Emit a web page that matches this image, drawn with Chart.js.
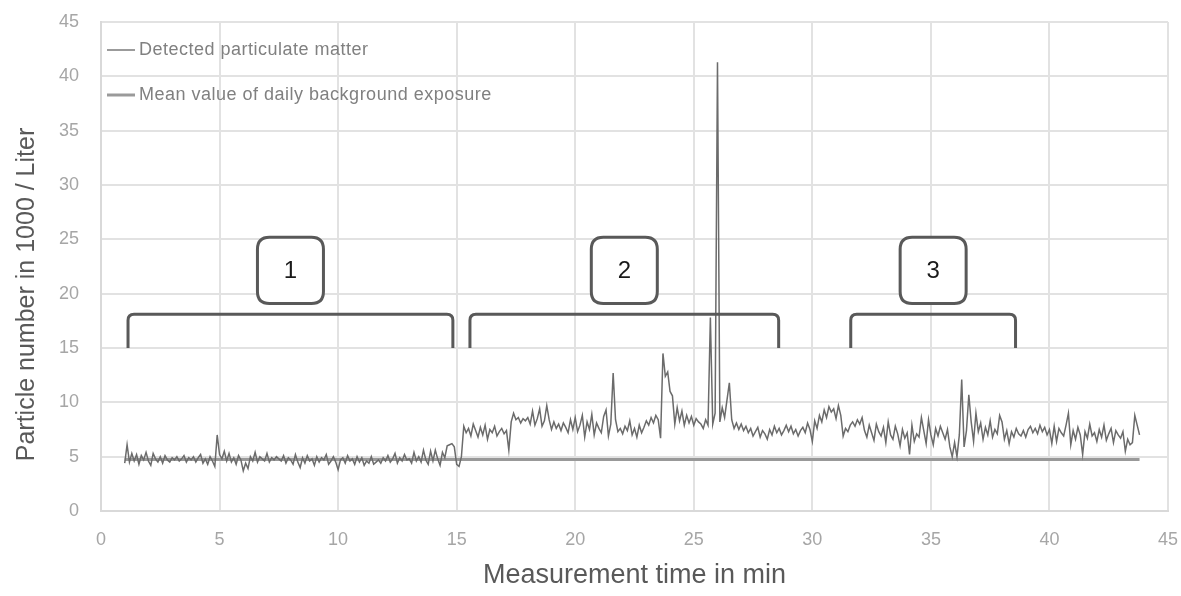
<!DOCTYPE html>
<html lang="en">
<head>
  <title>Particulate matter</title>
  <meta charset="UTF-8">
  <script src="https://cdn.jsdelivr.net/npm/chart.js"></script>
  <style>
    body { margin: 0; background: #fff; }
  </style>
</head>
<body>
  <canvas id="pmChart" width="1181" height="596"></canvas>

  <script>
    // measurement starts at 1 min, one value every 0.1 min
    const startTime = 1.0;
    const timeStep = 0.1;

    // detected particle numbers (1000 / Liter), one row per minute
    const detected = [
      4.4, 6.1, 4.5, 5.3, 4.6, 5.2, 4.3, 5.1, 4.7, 5.4,
      4.6, 4.2, 5.3, 4.8, 4.5, 5.0, 4.4, 5.1, 4.7, 4.5,
      4.9, 4.7, 5.0, 4.6, 4.8, 5.1, 4.5, 4.9, 4.7, 5.0,
      4.5, 4.9, 5.2, 4.4, 4.8, 4.3, 5.0, 4.6, 4.1, 7.0,
      5.2, 4.8, 5.5, 4.6, 5.3, 4.5, 4.9, 4.3, 5.1, 4.7,
      3.7, 4.4, 3.9, 5.0, 4.6, 5.4, 4.5, 5.0, 4.8, 4.6,
      5.3, 4.5, 4.9, 4.7, 5.0, 4.8, 4.6, 5.1, 4.4, 4.9,
      4.7, 4.3, 5.2, 4.5, 4.0, 4.9, 4.4, 5.1, 4.6, 4.8,
      4.2, 5.0, 4.5, 4.9, 4.7, 5.2, 4.3, 4.6, 5.0, 4.5,
      3.8, 4.7, 4.9, 4.4, 5.1, 4.6, 4.8, 4.3, 5.0, 4.5,
      4.9, 4.2, 4.6, 4.4, 5.0, 4.3, 4.5, 4.7, 4.4, 4.9,
      4.6, 5.1, 4.5, 4.8, 5.3, 4.4, 4.9, 4.6, 5.2, 4.7,
      4.8, 4.4, 5.4, 4.6, 5.0, 4.5, 5.6, 4.7, 4.3, 5.5,
      4.6, 5.6, 4.8, 4.2, 5.4, 4.9, 6.0, 6.1, 6.2, 5.9,
      4.3, 4.1, 5.0, 7.8, 7.2, 7.6, 6.9, 8.0, 7.4, 6.8,
      7.7, 7.0, 7.9, 6.6, 7.5, 7.2, 7.8, 6.9, 7.3, 7.6,
      7.1, 7.4, 5.6, 8.2, 9.0, 8.4, 8.6, 8.1, 8.5, 8.3,
      8.6, 8.0, 9.2, 7.9, 8.5, 9.4, 7.8, 8.3, 9.7, 8.4,
      7.5, 8.2, 7.6, 8.0, 7.4, 8.1, 7.7, 7.2, 8.4, 7.5,
      8.6, 7.3, 7.9, 8.8, 6.8, 8.2, 7.5, 8.9, 7.0, 8.1,
      7.6, 7.2, 8.7, 9.3, 6.9, 8.0, 12.7, 8.4, 7.3, 7.6,
      7.1, 7.8, 7.4, 8.3, 7.0, 7.6, 6.8, 7.9, 7.2, 7.7,
      8.3, 7.9, 8.6, 8.1, 8.8, 8.4, 6.7, 14.5, 12.4, 12.8,
      11.0, 10.6, 8.0, 9.5, 8.3, 9.2, 7.9, 8.8, 8.1, 8.7,
      7.9, 8.5, 8.2, 8.0, 7.6, 8.4, 7.9, 17.8, 8.0, 9.0,
      41.3, 8.2, 9.5, 8.6, 10.2, 11.8, 8.4, 7.6, 8.1, 7.5,
      8.0, 7.4, 7.8, 7.2, 7.6, 6.9, 7.3, 7.7, 6.8, 7.4,
      7.1, 6.6, 7.5, 7.0, 7.8, 7.2, 7.6, 7.0, 7.4, 7.9,
      7.3, 7.8, 7.1, 7.5, 6.9, 7.4, 7.7, 7.2, 8.1, 7.5,
      6.4, 8.3, 7.6, 8.8, 8.2, 9.3, 8.6, 9.6, 9.1, 9.4,
      8.5, 9.7, 8.8, 6.9, 7.6, 7.3, 7.9, 8.2, 7.8, 8.4,
      8.0, 8.6, 7.4, 6.8, 7.9, 7.2, 6.5, 8.0, 7.3, 6.9,
      7.7, 6.3, 8.2, 7.0, 6.6, 7.8, 7.1, 6.0, 7.5, 6.7,
      7.2, 5.2, 7.9, 6.4, 7.1, 6.8, 8.6, 7.4, 6.2, 8.4,
      7.0, 6.1, 7.6, 6.9, 7.8, 7.2, 6.6, 7.5, 5.9, 5.0,
      6.3, 5.0, 7.0, 12.1, 5.9, 7.4, 10.7, 8.2, 6.4, 9.0,
      7.3, 8.1, 6.6, 7.7, 7.0, 8.3, 6.8, 7.5, 7.1, 8.8,
      8.2, 6.6, 7.4, 6.2, 7.3, 6.8, 7.6, 7.1, 6.9, 7.4,
      6.8, 7.5, 7.8, 7.2, 7.6, 7.1, 7.9, 7.3, 7.7, 7.0,
      7.5, 6.2, 7.8, 6.4, 7.6, 7.2, 6.9, 7.9, 9.0, 6.1,
      7.4, 6.6, 7.7, 7.0, 5.2, 7.3, 6.7, 8.0, 6.9, 7.2,
      6.4, 7.5, 6.8, 7.9, 6.5, 7.1, 7.6, 6.3, 7.4, 7.0,
      6.7, 7.3, 5.5, 6.6, 6.1, 6.3, 8.8, 7.9, 7.0
    ];

    // mean value of daily background exposure
    const meanTimes = [1.0, 43.8];
    const meanValues = [4.75, 4.75];

    // measurement phases (start, end in min) and their labels
    const phaseLabels = ['1', '2', '3'];
    const phaseStart = [1.14, 15.56, 31.62];
    const phaseEnd = [14.84, 28.58, 38.57];

    const axisTicks = [0, 5, 10, 15, 20, 25, 30, 35, 40, 45];

    const legendLabels = ['Detected particulate matter', 'Mean value of daily background exposure'];

    const textFont = '"Liberation Sans", sans-serif';

    const detectedPoints = detected.map((v, i) => ({ x: startTime + i * timeStep, y: v }));
    const meanPoints = meanTimes.map((t, i) => ({ x: t, y: meanValues[i] }));

    function roundRect(ctx, x, y, w, h, r) {
      ctx.beginPath();
      ctx.moveTo(x + r, y);
      ctx.lineTo(x + w - r, y);
      ctx.quadraticCurveTo(x + w, y, x + w, y + r);
      ctx.lineTo(x + w, y + h - r);
      ctx.quadraticCurveTo(x + w, y + h, x + w - r, y + h);
      ctx.lineTo(x + r, y + h);
      ctx.quadraticCurveTo(x, y + h, x, y + h - r);
      ctx.lineTo(x, y + r);
      ctx.quadraticCurveTo(x, y, x + r, y);
      ctx.closePath();
    }

    // brackets + numbered boxes over the phases
    const phasePlugin = {
      id: 'phases',
      afterDatasetsDraw(chart) {
        const ctx = chart.ctx;
        const xs = chart.scales.x, ys = chart.scales.y;
        const top = ys.getPixelForValue(18.1);
        const leg = ys.getPixelForValue(15.0);
        const boxTop = ys.getPixelForValue(25.2);
        const boxBottom = ys.getPixelForValue(19.1);
        ctx.save();
        ctx.strokeStyle = '#595959';
        ctx.lineWidth = 3;
        phaseLabels.forEach((lab, i) => {
          const x0 = xs.getPixelForValue(phaseStart[i]);
          const x1 = xs.getPixelForValue(phaseEnd[i]);
          ctx.beginPath();
          ctx.moveTo(x0, leg);
          ctx.lineTo(x0, top + 6);
          ctx.quadraticCurveTo(x0, top, x0 + 6, top);
          ctx.lineTo(x1 - 6, top);
          ctx.quadraticCurveTo(x1, top, x1, top + 6);
          ctx.lineTo(x1, leg);
          ctx.stroke();

          const cx = (x0 + x1) / 2;
          const w = 66;
          roundRect(ctx, cx - w / 2, boxTop, w, boxBottom - boxTop, 12);
          ctx.fillStyle = '#ffffff';
          ctx.fill();
          ctx.stroke();
          ctx.fillStyle = '#1a1a1a';
          ctx.font = '24px ' + textFont;
          ctx.textAlign = 'center';
          ctx.textBaseline = 'middle';
          ctx.fillText(lab, cx, (boxTop + boxBottom) / 2 + 1);
        });
        ctx.restore();
      },
      afterDraw(chart) {
        const ctx = chart.ctx;
        const a = chart.chartArea;
        ctx.save();
        // y axis title, sits a bit below the middle of the plot like the original
        ctx.translate(27, (a.top + a.bottom) / 2 + 28);
        ctx.rotate(-Math.PI / 2);
        ctx.font = '25px ' + textFont;
        ctx.fillStyle = '#595959';
        ctx.textAlign = 'center';
        ctx.textBaseline = 'middle';
        ctx.fillText('Particle number in 1000 / Liter', 0, 0);
        ctx.restore();

        // legend inside the plot, top left
        const rows = [a.top + 28, a.top + 73];
        const colors = ['#7a7a7a', '#9a9a9a'];
        const widths = [1.5, 3];
        ctx.save();
        ctx.font = '18px ' + textFont;
        ctx.letterSpacing = '0.5px';
        ctx.textBaseline = 'middle';
        ctx.textAlign = 'left';
        legendLabels.forEach((lab, i) => {
          ctx.strokeStyle = colors[i];
          ctx.lineWidth = widths[i];
          ctx.beginPath();
          ctx.moveTo(a.left + 6, rows[i]);
          ctx.lineTo(a.left + 34, rows[i]);
          ctx.stroke();
          ctx.fillStyle = '#808080';
          ctx.fillText(lab, a.left + 38, rows[i]);
        });
        ctx.restore();
      }
    };

    const gridStyle = { color: '#e2e2e2', lineWidth: 2, drawTicks: false };

    new Chart(document.getElementById('pmChart'), {
      type: 'line',
      data: {
        datasets: [
          {
            label: legendLabels[0],
            data: detectedPoints,
            borderColor: '#6b6b6b',
            borderWidth: 1.5,
            pointRadius: 0,
            tension: 0
          },
          {
            label: legendLabels[1],
            data: meanPoints,
            borderColor: '#999999',
            borderWidth: 3,
            pointRadius: 0
          }
        ]
      },
      options: {
        responsive: false,
        animation: false,
        layout: { padding: { top: 22, right: 13, left: 0, bottom: 0 } },
        plugins: {
          legend: { display: false },
          tooltip: { enabled: false }
        },
        scales: {
          x: {
            type: 'linear',
            min: 0,
            max: 45,
            afterBuildTicks: s => { s.ticks = axisTicks.map(v => ({ value: v })); },
            grid: gridStyle,
            border: { color: '#d9d9d9', width: 2 },
            ticks: { color: '#a6a6a6', padding: 18, font: { family: textFont, size: 18 } },
            title: {
              display: true,
              text: 'Measurement time in min',
              color: '#595959',
              padding: { top: 0, bottom: 4 },
              font: { family: textFont, size: 27 }
            },
            afterFit: s => { s.height = 85; s.paddingLeft = 0; s.paddingRight = 0; }
          },
          y: {
            min: 0,
            max: 45,
            afterBuildTicks: s => { s.ticks = axisTicks.map(v => ({ value: v })); },
            grid: gridStyle,
            border: { color: '#d9d9d9', width: 2 },
            ticks: { color: '#a6a6a6', padding: 22, font: { family: textFont, size: 18 } },
            afterFit: s => { s.width = 101; s.paddingTop = 0; s.paddingBottom = 0; }
          }
        }
      },
      plugins: [phasePlugin]
    });
  </script>
</body>
</html>
